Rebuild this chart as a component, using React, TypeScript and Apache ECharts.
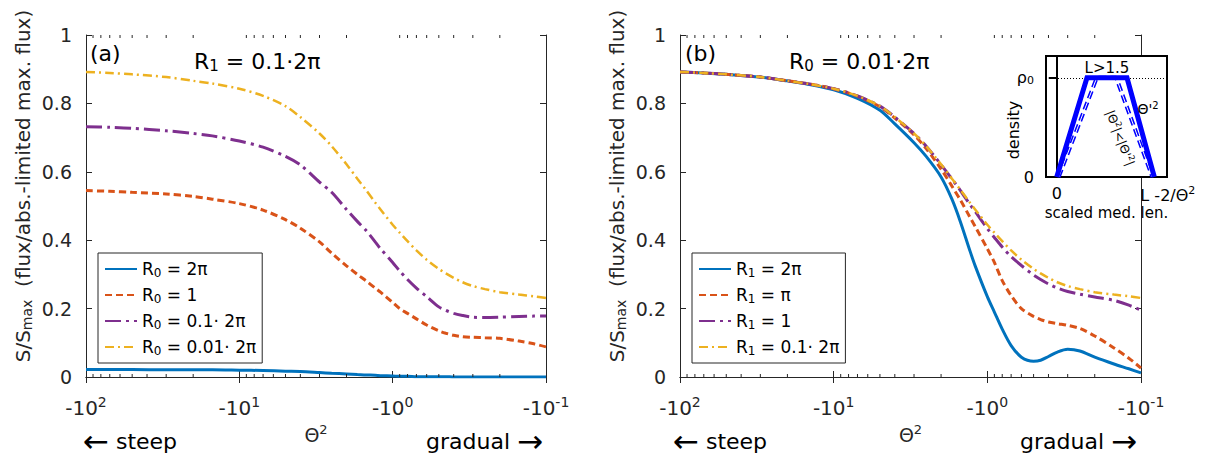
import React, { useEffect, useRef } from "react";
import * as echarts from "echarts";

// |Θ²| sample positions (the axis shows -|Θ²|)
const THETA2 = [100, 70, 50, 30, 20, 15, 10, 7, 5, 4, 3, 2.5, 2, 1.7, 1.5, 1.3, 1.2, 1, 0.9, 0.8, 0.7, 0.6, 0.5, 0.45, 0.4, 0.35, 0.3, 0.25, 0.2, 0.15, 0.12, 0.1];

// panel (a): R1 = 0.1·2π
const A_R0_2PI = [0.022, 0.022, 0.022, 0.021, 0.021, 0.021, 0.02, 0.019, 0.017, 0.016, 0.013, 0.011, 0.009, 0.007, 0.006, 0.005, 0.004, 0.003, 0.002, 0.002, 0.001, 0.001, 0.001, 0.001, 0, 0, 0, 0, 0, 0, 0, 0];
const A_R0_1 = [0.545, 0.543, 0.54, 0.535, 0.528, 0.52, 0.507, 0.488, 0.46, 0.435, 0.395, 0.362, 0.325, 0.3, 0.282, 0.26, 0.248, 0.218, 0.2, 0.186, 0.17, 0.152, 0.135, 0.128, 0.122, 0.118, 0.116, 0.115, 0.113, 0.105, 0.097, 0.088];
const A_R0_01_2PI = [0.732, 0.73, 0.727, 0.72, 0.712, 0.705, 0.69, 0.672, 0.645, 0.62, 0.57, 0.54, 0.49, 0.455, 0.43, 0.395, 0.375, 0.335, 0.31, 0.285, 0.26, 0.235, 0.205, 0.195, 0.186, 0.18, 0.175, 0.174, 0.175, 0.177, 0.178, 0.178];
const A_R0_001_2PI = [0.892, 0.889, 0.885, 0.877, 0.866, 0.858, 0.843, 0.822, 0.792, 0.76, 0.712, 0.675, 0.622, 0.58, 0.548, 0.51, 0.49, 0.445, 0.422, 0.397, 0.37, 0.343, 0.316, 0.303, 0.29, 0.277, 0.266, 0.257, 0.248, 0.241, 0.236, 0.231];

// panel (b): R0 = 0.01·2π
const B_R1_2PI = [0.892, 0.889, 0.885, 0.877, 0.866, 0.857, 0.84, 0.815, 0.78, 0.74, 0.685, 0.645, 0.585, 0.52, 0.455, 0.37, 0.325, 0.235, 0.19, 0.14, 0.092, 0.058, 0.046, 0.049, 0.06, 0.073, 0.081, 0.076, 0.058, 0.038, 0.024, 0.012];
const B_R1_PI = [0.892, 0.889, 0.885, 0.877, 0.866, 0.858, 0.843, 0.821, 0.79, 0.757, 0.708, 0.668, 0.608, 0.558, 0.518, 0.468, 0.44, 0.375, 0.335, 0.282, 0.238, 0.2, 0.177, 0.168, 0.161, 0.156, 0.151, 0.142, 0.12, 0.085, 0.055, 0.026];
const B_R1_1 = [0.892, 0.889, 0.885, 0.877, 0.866, 0.858, 0.843, 0.822, 0.792, 0.76, 0.712, 0.675, 0.621, 0.579, 0.546, 0.505, 0.484, 0.434, 0.408, 0.38, 0.352, 0.326, 0.298, 0.285, 0.272, 0.26, 0.25, 0.242, 0.234, 0.224, 0.21, 0.195];
const B_R1_01_2PI = [0.892, 0.889, 0.885, 0.877, 0.866, 0.858, 0.843, 0.822, 0.792, 0.76, 0.712, 0.675, 0.622, 0.58, 0.548, 0.51, 0.49, 0.445, 0.422, 0.397, 0.37, 0.343, 0.316, 0.303, 0.29, 0.277, 0.266, 0.257, 0.248, 0.241, 0.236, 0.231];

const X_MINOR = [90, 80, 70, 60, 50, 40, 30, 20, 9, 8, 7, 6, 5, 4, 3, 2, 0.9, 0.8, 0.7, 0.6, 0.5, 0.4, 0.3, 0.2];

// inset: density profiles (scaled medium length, density/ρ0)
const INSET_SOLID = [[0, 0], [0.31, 1], [0.72, 1], [1, 0]];
const INSET_DASHED = [[0.02, 0], [0.41, 1], [0.61, 1], [0.98, 0]];

const FONT = "DejaVu Sans";
const AXIS = "#262626";
const BLUE = "#0072BD";
const ORANGE = "#D95319";
const PURPLE = "#7E2F8E";
const YELLOW = "#EDB120";

// axis indices: 0/1 = panel (a) bottom/top & left/right, 2/3 = panel (b), 4 = inset
const AX_A = 0;
const AX_B = 2;
const AX_IN = 4;

const subRich = (size: number, pad: number) => ({ fontSize: size, fontFamily: FONT, color: "#000", padding: [pad, 0, 0, 0] });
const supRich = (size: number, pad: number, color = AXIS) => ({ fontSize: size, fontFamily: FONT, color, padding: [0, 0, pad, 0] });

function xAxes(grid: number) {
  const base: any = {
    gridIndex: grid,
    type: "log",
    logBase: 10,
    min: 0.1,
    max: 100,
    inverse: true,
    splitLine: { show: false },
    axisLine: { show: true, lineStyle: { color: AXIS, width: 1 } },
    axisTick: { show: true, inside: true, length: 6, lineStyle: { color: AXIS, width: 1 } },
  };
  return [
    {
      ...base,
      position: "bottom",
      axisLabel: {
        margin: 18,
        color: AXIS,
        fontSize: 20,
        fontFamily: FONT,
        formatter: (v: number) => `-10{u|${Math.round(Math.log10(v))}}`,
        rich: { u: supRich(14, 11) },
      },
      name: "Θ{u|2}",
      nameLocation: "middle",
      nameGap: 46,
      nameTextStyle: { color: AXIS, fontSize: 19, fontFamily: FONT, rich: { u: supRich(13, 11) } },
    },
    { ...base, position: "top", axisLabel: { show: false } },
  ];
}

function yAxes(grid: number) {
  const base: any = {
    gridIndex: grid,
    type: "value",
    min: 0,
    max: 1,
    interval: 0.2,
    splitLine: { show: false },
    axisLine: { show: true, lineStyle: { color: AXIS, width: 1 } },
    axisTick: { show: true, inside: true, length: 6, lineStyle: { color: AXIS, width: 1 } },
  };
  return [
    {
      ...base,
      position: "left",
      axisLabel: { margin: 14, color: AXIS, fontSize: 19, fontFamily: FONT },
      name: "S/S{s|max}  (flux/abs.-limited max. flux)",
      nameLocation: "middle",
      nameGap: 52,
      nameTextStyle: {
        color: AXIS,
        fontSize: 20,
        fontFamily: FONT,
        padding: [0, 0, 0, 40],
        rich: { s: { fontSize: 14, fontFamily: FONT, color: AXIS, padding: [9, 0, 0, 0] } },
      },
    },
    { ...base, position: "right", axisLabel: { show: false } },
  ];
}

function line(name: string, ys: number[], color: string, type: any, width: number, ax: number) {
  return {
    type: "line",
    name,
    xAxisIndex: ax,
    yAxisIndex: ax,
    data: THETA2.map((x, i) => [x, ys[i]]),
    symbol: "none",
    showSymbol: false,
    smooth: 0.3,
    lineStyle: { color, width, type },
    itemStyle: { color },
    z: 3,
  };
}

function minorTicks(ax: number) {
  return {
    type: "custom",
    name: "minor" + ax,
    xAxisIndex: ax,
    yAxisIndex: ax,
    silent: true,
    clip: false,
    z: 4,
    data: X_MINOR.map((v) => [v, 0]),
    encode: { x: 0, y: 1 },
    renderItem: (_p: any, api: any) => {
      const v = api.value(0);
      const b = api.coord([v, 0]);
      const t = api.coord([v, 1]);
      const st = { stroke: AXIS, lineWidth: 1 };
      return {
        type: "group",
        children: [
          { type: "line", shape: { x1: b[0], y1: b[1], x2: b[0], y2: b[1] - 3 }, style: st },
          { type: "line", shape: { x1: t[0], y1: t[1], x2: t[0], y2: t[1] + 3 }, style: st },
        ],
      };
    },
  };
}

const NAMES_A = ["R{s|0} = 2π", "R{s|0} = 1", "R{s|0} = 0.1· 2π", "R{s|0} = 0.01· 2π"];
const NAMES_B = ["R{s|1} = 2π", "R{s|1} = π", "R{s|1} = 1", "R{s|1} = 0.1· 2π"];

const DASH = [7, 4];
const DASHDOT_LONG = [16, 5, 3, 5];
const DASHDOT_SHORT = [9, 4, 2, 4];

function legend(left: number, names: string[]) {
  return {
    orient: "vertical",
    left,
    top: 253,
    data: names,
    itemWidth: 32,
    itemHeight: 14,
    itemGap: 6,
    padding: [6, 6, 6, 6],
    borderColor: AXIS,
    borderWidth: 1,
    backgroundColor: "#fff",
    selectedMode: false,
    z: 10,
    itemStyle: { opacity: 0 },
    textStyle: {
      fontSize: 17,
      fontFamily: FONT,
      color: "#000",
      lineHeight: 20,
      rich: { s: subRich(12, 7) },
    },
  };
}

const titleStyle = (size: number) => ({
  fontSize: size,
  fontWeight: "normal",
  fontFamily: FONT,
  color: "#000",
  rich: { s: subRich(15, 9) },
});

const arrowRich = { a: { fontSize: 31, fontFamily: FONT, color: "#000", fill: "#000" } };

export default function App() {
  const ref = useRef<HTMLDivElement>(null);
  useEffect(() => {
    if (!ref.current) return;
    const chart = echarts.init(ref.current, undefined, { renderer: "svg" });
    const option: any = {
      animation: false,
      backgroundColor: "#fff",
      textStyle: { fontFamily: FONT },
      title: [
        { text: "(a)", left: 90, top: 42, padding: 0, textStyle: titleStyle(22) },
        { text: "R{s|1} = 0.1·2π", left: 194, top: 49, padding: 0, textStyle: titleStyle(22) },
        { text: "(b)", left: 685, top: 42, padding: 0, textStyle: titleStyle(22) },
        { text: "R{s|0} = 0.01·2π", left: 789, top: 49, padding: 0, textStyle: titleStyle(22) },
      ],
      grid: [
        { left: 86, top: 35, width: 460, height: 342, outerBoundsMode: "none" },
        { left: 680, top: 35, width: 461, height: 342, outerBoundsMode: "none" },
        {
          left: 1046, top: 56, width: 121, height: 121, show: true, backgroundColor: "#fff",
          borderColor: "#000", borderWidth: 2, z: 5, outerBoundsMode: "none",
        },
      ],
      xAxis: [
        ...xAxes(0),
        ...xAxes(1),
        {
          gridIndex: 2, type: "value", min: -0.11, max: 1.13, z: 6,
          splitLine: { show: false },
          axisLine: { show: true, lineStyle: { color: "#000", width: 2 } },
          axisTick: { show: false },
          axisLabel: {
            customValues: [0, 1], margin: 8, fontSize: 16, fontFamily: FONT, color: "#000",
            formatter: (v: number) => (v === 0 ? "0" : "{l|L} -2/Θ{u|2}"),
            rich: { l: { fontSize: 16, fontFamily: FONT, color: "#000", padding: [0, 0, 0, 27] }, u: supRich(11, 9, "#000") },
          },
          name: "scaled med. len.", nameLocation: "middle", nameGap: 28,
          nameTextStyle: { fontSize: 15, fontFamily: FONT, color: "#000" },
        },
      ],
      yAxis: [
        ...yAxes(0),
        ...yAxes(1),
        {
          gridIndex: 2, type: "value", min: 0, max: 1.22, z: 6,
          splitLine: { show: false },
          axisLine: { show: true, lineStyle: { color: "#000", width: 2 } },
          axisTick: { show: true, inside: false, length: 8, customValues: [0, 1], lineStyle: { color: "#000", width: 2 } },
          axisLabel: {
            customValues: [0, 1], margin: 12, fontSize: 16, fontFamily: FONT, color: "#000",
            formatter: (v: number) => (v === 0 ? "0" : "ρ{s|0}"),
            rich: { s: subRich(11, 6) },
          },
        },
      ],
      legend: [legend(98, NAMES_A), legend(692, NAMES_B)],
      series: [
        line(NAMES_A[0], A_R0_2PI, BLUE, "solid", 3, AX_A),
        line(NAMES_A[1], A_R0_1, ORANGE, DASH, 3, AX_A),
        line(NAMES_A[2], A_R0_01_2PI, PURPLE, DASHDOT_LONG, 3, AX_A),
        line(NAMES_A[3], A_R0_001_2PI, YELLOW, DASHDOT_SHORT, 2.5, AX_A),
        line(NAMES_B[0], B_R1_2PI, BLUE, "solid", 3, AX_B),
        line(NAMES_B[1], B_R1_PI, ORANGE, DASH, 3, AX_B),
        line(NAMES_B[2], B_R1_1, PURPLE, DASHDOT_LONG, 3, AX_B),
        line(NAMES_B[3], B_R1_01_2PI, YELLOW, DASHDOT_SHORT, 2.5, AX_B),
        minorTicks(AX_A),
        minorTicks(AX_B),
        {
          type: "line", name: "inset dashed", xAxisIndex: AX_IN, yAxisIndex: AX_IN, z: 7,
          data: INSET_DASHED, symbol: "none",
          lineStyle: { color: "#0000ff", width: 4, type: [8, 4] },
          markLine: {
            silent: true, symbol: "none", label: { show: false },
            lineStyle: { color: "#000", type: [1, 2], width: 1 },
            data: [{ yAxis: 1 }],
          },
        },
        {
          type: "line", name: "inset dashed core", xAxisIndex: AX_IN, yAxisIndex: AX_IN, z: 8,
          data: INSET_DASHED, symbol: "none",
          lineStyle: { color: "#ffffff", width: 1 },
        },
        {
          type: "line", name: "inset solid", xAxisIndex: AX_IN, yAxisIndex: AX_IN, z: 9,
          data: INSET_SOLID, symbol: "none",
          lineStyle: { color: "#0000ff", width: 5, join: "miter" },
        },
      ],
      graphic: [
        ...[
          { l: 83, r: 543 },
          { l: 673, r: 1137 },
        ].flatMap((p) => [
          {
            type: "text", x: p.l, y: 441, z: 20,
            style: {
              text: "{a|←} steep", fill: "#000", fontSize: 22, fontFamily: FONT, verticalAlign: "middle", align: "left",
              rich: arrowRich,
            },
          },
          {
            type: "text", x: p.r, y: 441, z: 20,
            style: {
              text: "gradual {a|→}", fill: "#000", fontSize: 22, fontFamily: FONT, verticalAlign: "middle", align: "right",
              rich: arrowRich,
            },
          },
        ]),
        {
          type: "text", x: 1107, y: 68, z: 20,
          style: { text: "L>1.5", fill: "#000", fontSize: 15, fontFamily: FONT, align: "center", verticalAlign: "middle" },
        },
        {
          type: "text", x: 1148, y: 109, z: 20,
          style: {
            text: "Θ'{u|2}", fill: "#000", fontSize: 14, fontFamily: FONT, align: "center", verticalAlign: "middle",
            rich: { u: { fontSize: 10, fontFamily: FONT, fill: "#000", padding: [0, 0, 8, 0] } },
          },
        },
        {
          type: "text", x: 1120, y: 138, rotation: -1.2, z: 20,
          style: {
            text: "|Θ{u|2}|<|Θ'{u|2}|", fill: "#000", fontSize: 12, fontFamily: FONT, align: "center", verticalAlign: "middle",
            rich: { u: { fontSize: 8, fontFamily: FONT, fill: "#000", padding: [0, 0, 7, 0] } },
          },
        },
        {
          type: "text", x: 1013, y: 130, rotation: Math.PI / 2, z: 20,
          style: { text: "density", fill: "#000", fontSize: 16, fontFamily: FONT, align: "center", verticalAlign: "middle" },
        },
      ],
    };
    chart.setOption(option);
    return () => chart.dispose();
  }, []);
  return <div ref={ref} style={{ position: "fixed", left: 0, top: 0, width: 1206, height: 461 }} />;
}
